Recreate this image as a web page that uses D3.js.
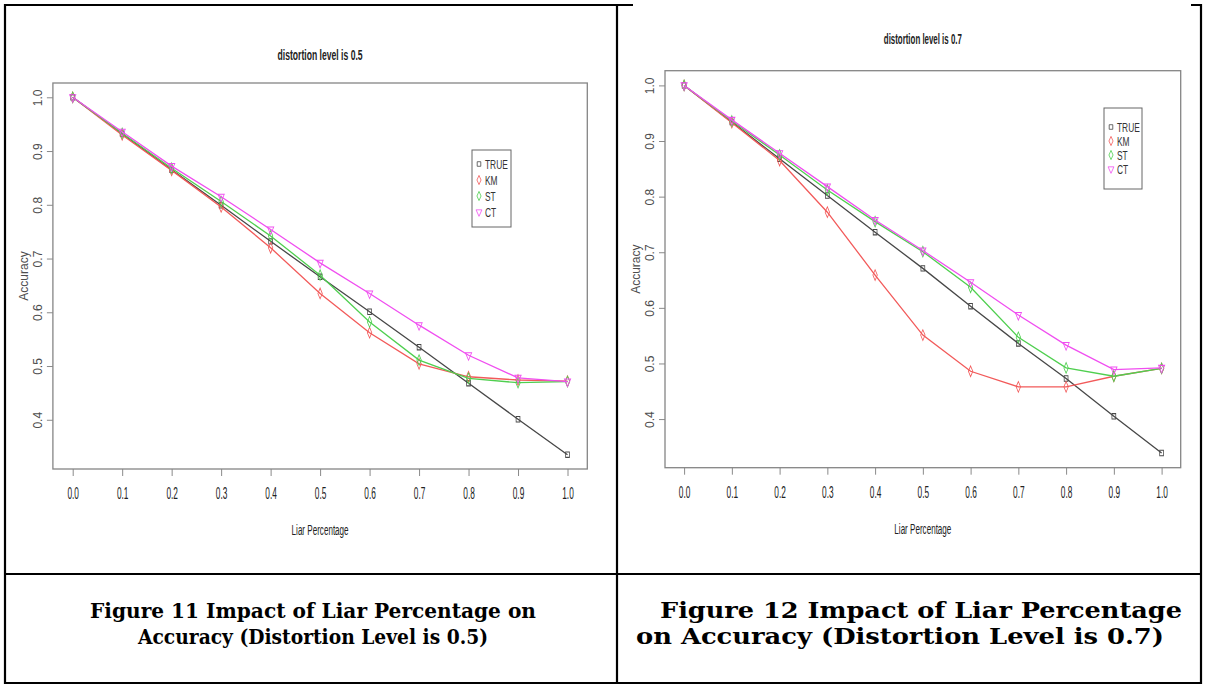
<!DOCTYPE html>
<html lang="en">
<head>
<meta charset="UTF-8">
<title>Impact of Liar Percentage on Accuracy</title>
<script src="https://cdnjs.cloudflare.com/ajax/libs/d3/7.8.5/d3.min.js"></script>
<style>
  body{margin:0;background:#fff;}
  svg{display:block;}
</style>
</head>
<body>
<svg id="page" width="1206" height="687"></svg>
<script>
// shared x values and tick labels
const liarPct = [0, 0.1, 0.2, 0.3, 0.4, 0.5, 0.6, 0.7, 0.8, 0.9, 1.0];
const yTickVals = [0.4, 0.5, 0.6, 0.7, 0.8, 0.9, 1.0];
const seriesNames = ["TRUE", "KM", "ST", "CT"];

// distortion level 0.5
const acc05True = [1.0, 0.932, 0.865, 0.799, 0.732, 0.666, 0.601, 0.535, 0.468, 0.401, 0.335];
const acc05Km   = [1.0, 0.930, 0.864, 0.796, 0.720, 0.635, 0.562, 0.504, 0.480, 0.474, 0.472];
const acc05St   = [1.0, 0.933, 0.868, 0.806, 0.742, 0.669, 0.582, 0.511, 0.477, 0.469, 0.471];
const acc05Ct   = [1.0, 0.936, 0.872, 0.815, 0.754, 0.692, 0.635, 0.576, 0.520, 0.478, 0.471];

// distortion level 0.7
const acc07True = [1.0, 0.934, 0.868, 0.802, 0.736, 0.671, 0.603, 0.536, 0.473, 0.405, 0.339];
const acc07Km   = [1.0, 0.933, 0.865, 0.772, 0.659, 0.551, 0.486, 0.458, 0.458, 0.477, 0.491];
const acc07St   = [1.0, 0.936, 0.875, 0.812, 0.755, 0.701, 0.637, 0.547, 0.492, 0.477, 0.491];
const acc07Ct   = [1.0, 0.938, 0.878, 0.818, 0.758, 0.703, 0.646, 0.587, 0.533, 0.489, 0.492];

const titles = ["distortion level is 0.5", "distortion level is 0.7"];
const captions05 = ["Figure 11 Impact of Liar Percentage on", "Accuracy (Distortion Level is 0.5)"];
const captions07 = ["Figure 12 Impact of Liar Percentage", "on Accuracy (Distortion Level is 0.7)"];

const colors = ["#474747", "#f25a5a", "#4fcf4f", "#f04ef0"];
const shapes = [d3.symbolSquare, d3.symbolDiamond, d3.symbolDiamond, d3.symbolTriangle];

const svg = d3.select("#page");
svg.append("rect").attr("width", 1206).attr("height", 687).attr("fill", "#fff");

// table borders
const table = svg.append("g").attr("stroke", "#000").attr("stroke-width", 2.2);
table.append("line").attr("x1", 4).attr("x2", 1202).attr("y1", 5).attr("y2", 5);
table.append("line").attr("x1", 5).attr("x2", 5).attr("y1", 4).attr("y2", 684);
table.append("line").attr("x1", 1201).attr("x2", 1201).attr("y1", 4).attr("y2", 684);
table.append("line").attr("x1", 4).attr("x2", 1202).attr("y1", 683).attr("y2", 683);
table.append("line").attr("x1", 617).attr("x2", 617).attr("y1", 4).attr("y2", 684);
table.append("line").attr("x1", 4).attr("x2", 1202).attr("y1", 574).attr("y2", 574);
// the right picture sits over the top border
svg.append("rect").attr("x", 633).attr("y", 0).attr("width", 558).attr("height", 9).attr("fill", "#fff");

function marker(sel, i) {
  sel.append("path")
    .attr("d", d3.symbol().type(shapes[i]).size(i == 0 ? 26 : 30))
    .attr("fill", "none")
    .attr("stroke", colors[i])
    .attr("stroke-width", 1);
}

function drawPlot(cfg, series) {
  const g = svg.append("g");
  const x = d3.scaleLinear().domain([-0.04, 1.04]).range([cfg.left, cfg.right]);
  const all = series.flat();
  const lo = d3.min(all), hi = d3.max(all), pad = (hi - lo) * 0.04;
  const y = d3.scaleLinear().domain([lo - pad, hi + pad]).range([cfg.bottom, cfg.top]);

  // title
  g.append("text")
    .attr("x", (cfg.left + cfg.right) / 2).attr("y", cfg.titleY)
    .attr("text-anchor", "middle")
    .attr("font-family", "Liberation Sans, Arial, sans-serif")
    .attr("font-weight", "bold").attr("font-size", 15).attr("fill", "#222")
    .attr("textLength", cfg.titleLen).attr("lengthAdjust", "spacingAndGlyphs")
    .text(cfg.title);

  // x axis
  const xa = g.append("g").attr("transform", `translate(0,${cfg.bottom})`)
    .call(d3.axisBottom(x).tickValues(liarPct).tickFormat(d3.format(".1f")).tickSize(7));
  xa.select(".domain").remove();
  xa.selectAll("line").attr("stroke", "#8a8a8a");
  xa.selectAll("text")
    .attr("y", cfg.xLabelY).attr("dy", null)
    .attr("font-family", "Liberation Sans, Arial, sans-serif")
    .attr("font-size", 16).attr("fill", "#222")
    .attr("transform", "scale(0.52,1)");

  // y axis
  const ya = g.append("g").attr("transform", `translate(${cfg.left},0)`)
    .call(d3.axisLeft(y).tickValues(yTickVals).tickFormat(d3.format(".1f")).tickSize(6));
  ya.select(".domain").remove();
  ya.selectAll("line").attr("stroke", "#8a8a8a");
  ya.selectAll("text")
    .attr("x", 0).attr("dy", null)
    .attr("text-anchor", "middle")
    .attr("font-family", "Liberation Sans, Arial, sans-serif")
    .attr("font-size", 12).attr("fill", "#4d4d4d")
    .attr("transform", "translate(-11,0) rotate(-90)");

  // axis titles
  g.append("text")
    .attr("transform", `translate(${cfg.left - 25},${(cfg.top + cfg.bottom) / 2}) rotate(-90)`)
    .attr("text-anchor", "middle")
    .attr("font-family", "Liberation Sans, Arial, sans-serif")
    .attr("font-size", 12).attr("fill", "#4d4d4d")
    .text("Accuracy");
  g.append("text")
    .attr("x", (cfg.left + cfg.right) / 2).attr("y", cfg.bottom + cfg.xTitleY)
    .attr("text-anchor", "middle")
    .attr("font-family", "Liberation Sans, Arial, sans-serif")
    .attr("font-size", 14).attr("fill", "#222")
    .attr("textLength", 57).attr("lengthAdjust", "spacingAndGlyphs")
    .text("Liar Percentage");

  // plot box
  g.append("rect")
    .attr("x", cfg.left).attr("y", cfg.top)
    .attr("width", cfg.right - cfg.left).attr("height", cfg.bottom - cfg.top)
    .attr("fill", "none").attr("stroke", "#858585").attr("stroke-width", 1.3);

  const line = d3.line().x((d, i) => x(liarPct[i])).y(d => y(d));
  series.forEach((s, i) => {
    g.append("path").datum(s)
      .attr("d", line)
      .attr("fill", "none").attr("stroke", colors[i]).attr("stroke-width", 1.3);
    g.append("g").selectAll("g").data(s).join("g")
      .attr("transform", (d, j) => `translate(${x(liarPct[j])},${y(d)}) ${i == 3 ? "rotate(180)" : ""} scale(0.75,1.05)`)
      .each(function () { marker(d3.select(this), i); });
  });

  // legend
  const lg = g.append("g").attr("transform", `translate(${cfg.legX},${cfg.legY})`);
  lg.append("rect").attr("width", cfg.legW).attr("height", cfg.legH)
    .attr("fill", "#fff").attr("stroke", "#666").attr("stroke-width", 1);
  seriesNames.forEach((name, i) => {
    const row = lg.append("g").attr("transform", `translate(0,${cfg.legRow0 + i * cfg.legStep})`);
    row.append("g")
      .attr("transform", `translate(7,0) ${i == 3 ? "rotate(180)" : ""} scale(0.7,0.9)`)
      .call(sel => marker(sel, i));
    row.append("text")
      .attr("x", 0).attr("y", 4.5)
      .attr("transform", "translate(13,0) scale(0.62,1)")
      .attr("font-family", "Liberation Sans, Arial, sans-serif")
      .attr("font-size", 13.5).attr("fill", "#333")
      .text(name);
  });
}

drawPlot({
  left: 52.9, right: 587.3, top: 83, bottom: 469,
  title: titles[0], titleY: 60, titleLen: 85,
  xLabelY: 30, xTitleY: 66,
  legX: 472, legY: 150, legW: 39, legH: 77, legRow0: 14, legStep: 16
}, [acc05True, acc05Km, acc05St, acc05Ct]);

drawPlot({
  left: 665, right: 1180.7, top: 70.7, bottom: 467.7,
  title: titles[1], titleY: 44, titleLen: 78,
  xLabelY: 30, xTitleY: 66,
  legX: 1104, legY: 108, legW: 38, legH: 81, legRow0: 19, legStep: 14
}, [acc07True, acc07Km, acc07St, acc07Ct]);

// figure captions
function caption(lines, starts, widths, size) {
  lines.forEach((t, i) => {
    svg.append("text")
      .attr("x", starts[i]).attr("y", 618 + i * 26)
      .attr("font-family", "DejaVu Serif, Georgia, serif")
      .attr("font-weight", "bold").attr("font-size", size).attr("fill", "#000")
      .attr("textLength", widths[i]).attr("lengthAdjust", "spacingAndGlyphs")
      .text(t);
  });
}
caption(captions05, [90, 138], [446, 350], 20.5);
caption(captions07, [660, 636], [522, 528], 22.5);
</script>
</body>
</html>
